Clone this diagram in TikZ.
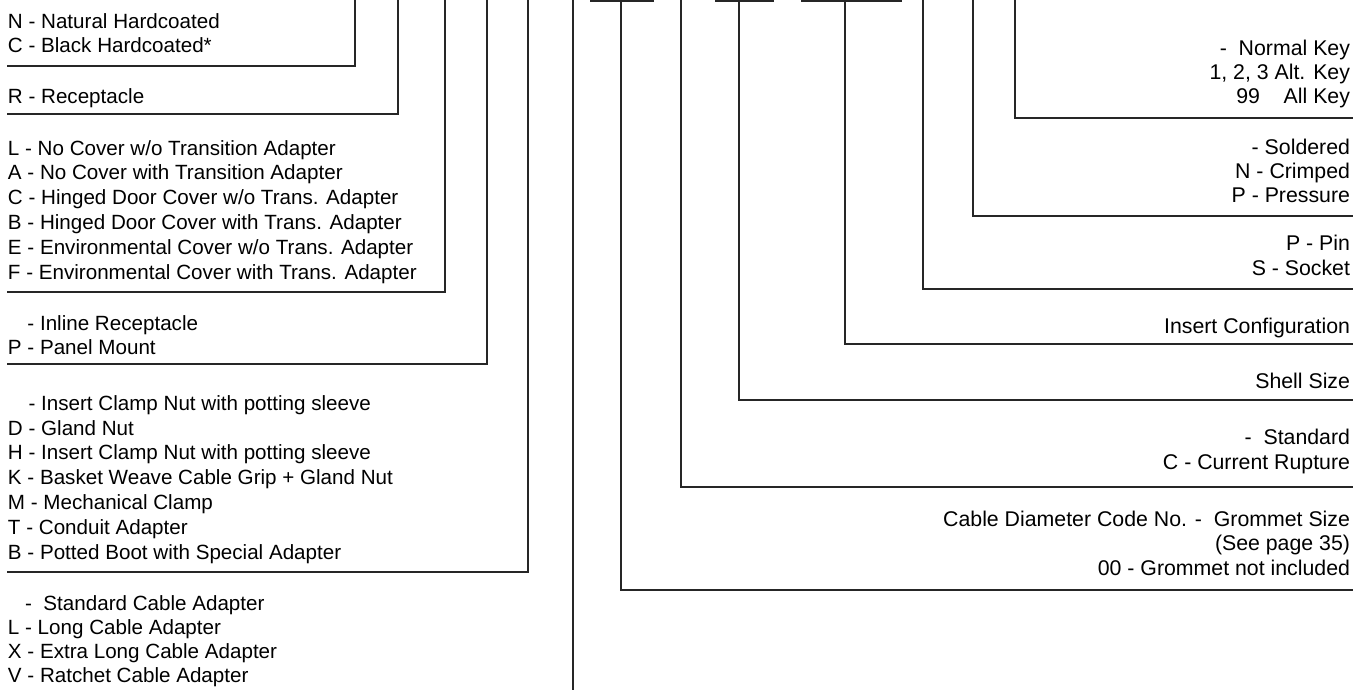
\documentclass[tikz,border=0pt]{standalone}
\usepackage{fontspec}
\setmainfont{Liberation Sans}
\begin{document}
\begin{tikzpicture}[x=1pt,y=-1pt,
  lbl/.style={inner sep=0pt,outer sep=0pt},
  lft/.style={lbl,align=left,anchor=base west,font=\fontsize{20.6}{24.8}\selectfont},
  rgt/.style={lbl,align=right,anchor=base east,font=\fontsize{21.3}{24.3}\selectfont},
  ln/.style={line width=1.3pt,draw=black!85,line cap=rect}]
\useasboundingbox (0,0) rectangle (1366,690);
% ---------- left texts (anchor = baseline of last line) ----------
\node[lft] (t1) at (8,53) {N - Natural Hardcoated\\C - Black Hardcoated*};
\node[lft] (t2) at (8,104) {R - Receptacle};
\node[lft] (t3) at (8,279) {L - No Cover w/o Transition Adapter\\A - No Cover with Transition Adapter\\C - Hinged Door Cover w/o Trans. Adapter\\B - Hinged Door Cover with Trans. Adapter\\E - Environmental Cover w/o Trans. Adapter\\F - Environmental Cover with Trans. Adapter};
\node[lft,font=\fontsize{20.6}{24}\selectfont] (t4) at (8,354) {\phantom{P} - Inline Receptacle\\P - Panel Mount};
\node[lft] (t5) at (8,559) {\phantom{D} - Insert Clamp Nut with potting sleeve\\D - Gland Nut\\H - Insert Clamp Nut with potting sleeve\\K - Basket Weave Cable Grip + Gland Nut\\M - Mechanical Clamp\\T - Conduit Adapter\\B - Potted Boot with Special Adapter};
\node[lft,font=\fontsize{20.6}{24}\selectfont] (t6) at (8,682) {\phantom{L} -~~Standard Cable Adapter\\L - Long Cable Adapter\\X - Extra Long Cable Adapter\\V - Ratchet Cable Adapter};
% ---------- right texts ----------
\node[rgt] (r1) at (1350,104) {-~~Normal Key\\1, 2, 3 Alt. Key\\99~~~~All Key};
\node[rgt] (r2) at (1350,203) {- Soldered\\N - Crimped\\P - Pressure};
\node[rgt] (r3) at (1350,275) {P - Pin\\S - Socket};
\node[rgt] (r4) at (1350,333) {Insert Configuration};
\node[rgt] (r5) at (1350,388) {Shell Size};
\node[rgt] (r6) at (1350,469) {-~~Standard\\C - Current Rupture};
\node[rgt] (r7) at (1350,575) {Cable Diameter Code No. -~~Grommet Size\\(See page 35)\\00 - Grommet not included};
% ---------- left brackets ----------
\coordinate (a1) at (355,0);  \coordinate (b1) at (355,66);  \coordinate (c1) at (8,66);
\coordinate (a2) at (398,0);  \coordinate (b2) at (398,114); \coordinate (c2) at (8,114);
\coordinate (a3) at (445,0);  \coordinate (b3) at (445,292); \coordinate (c3) at (8,292);
\coordinate (a4) at (487,0);  \coordinate (b4) at (487,364); \coordinate (c4) at (8,364);
\coordinate (a5) at (528,0);  \coordinate (b5) at (528,572); \coordinate (c5) at (8,572);
\coordinate (a6) at (573,0);  \coordinate (b6) at (573,690);
\draw[ln] (a1) -- (b1) -- (c1);
\draw[ln] (a2) -- (b2) -- (c2);
\draw[ln] (a3) -- (b3) -- (c3);
\draw[ln] (a4) -- (b4) -- (c4);
\draw[ln] (a5) -- (b5) -- (c5);
\draw[ln] (a6) -- (b6);
% ---------- part-number blanks ----------
\coordinate (u1l) at (591,1); \coordinate (u1r) at (653,1);
\coordinate (u2l) at (716,1); \coordinate (u2r) at (773,1);
\coordinate (u3l) at (802,1); \coordinate (u3r) at (901,1);
\draw[ln] (u1l) -- (u1r);
\draw[ln] (u2l) -- (u2r);
\draw[ln] (u3l) -- (u3r);
% ---------- right brackets ----------
\coordinate (p1) at (621,1);   \coordinate (q1) at (621,590);  \coordinate (e1) at (1352,590);
\coordinate (p2) at (681,0);   \coordinate (q2) at (681,487);  \coordinate (e2) at (1352,487);
\coordinate (p3) at (739,1);   \coordinate (q3) at (739,400);  \coordinate (e3) at (1352,400);
\coordinate (p4) at (845,1);   \coordinate (q4) at (845,344);  \coordinate (e4) at (1352,344);
\coordinate (p5) at (923,0);   \coordinate (q5) at (923,289);  \coordinate (e5) at (1352,289);
\coordinate (p6) at (973,0);   \coordinate (q6) at (973,216);  \coordinate (e6) at (1352,216);
\coordinate (p7) at (1015,0);  \coordinate (q7) at (1015,118); \coordinate (e7) at (1352,118);
\draw[ln] (p1) -- (q1) -- (e1);
\draw[ln] (p2) -- (q2) -- (e2);
\draw[ln] (p3) -- (q3) -- (e3);
\draw[ln] (p4) -- (q4) -- (e4);
\draw[ln] (p5) -- (q5) -- (e5);
\draw[ln] (p6) -- (q6) -- (e6);
\draw[ln] (p7) -- (q7) -- (e7);
\end{tikzpicture}
\end{document}
